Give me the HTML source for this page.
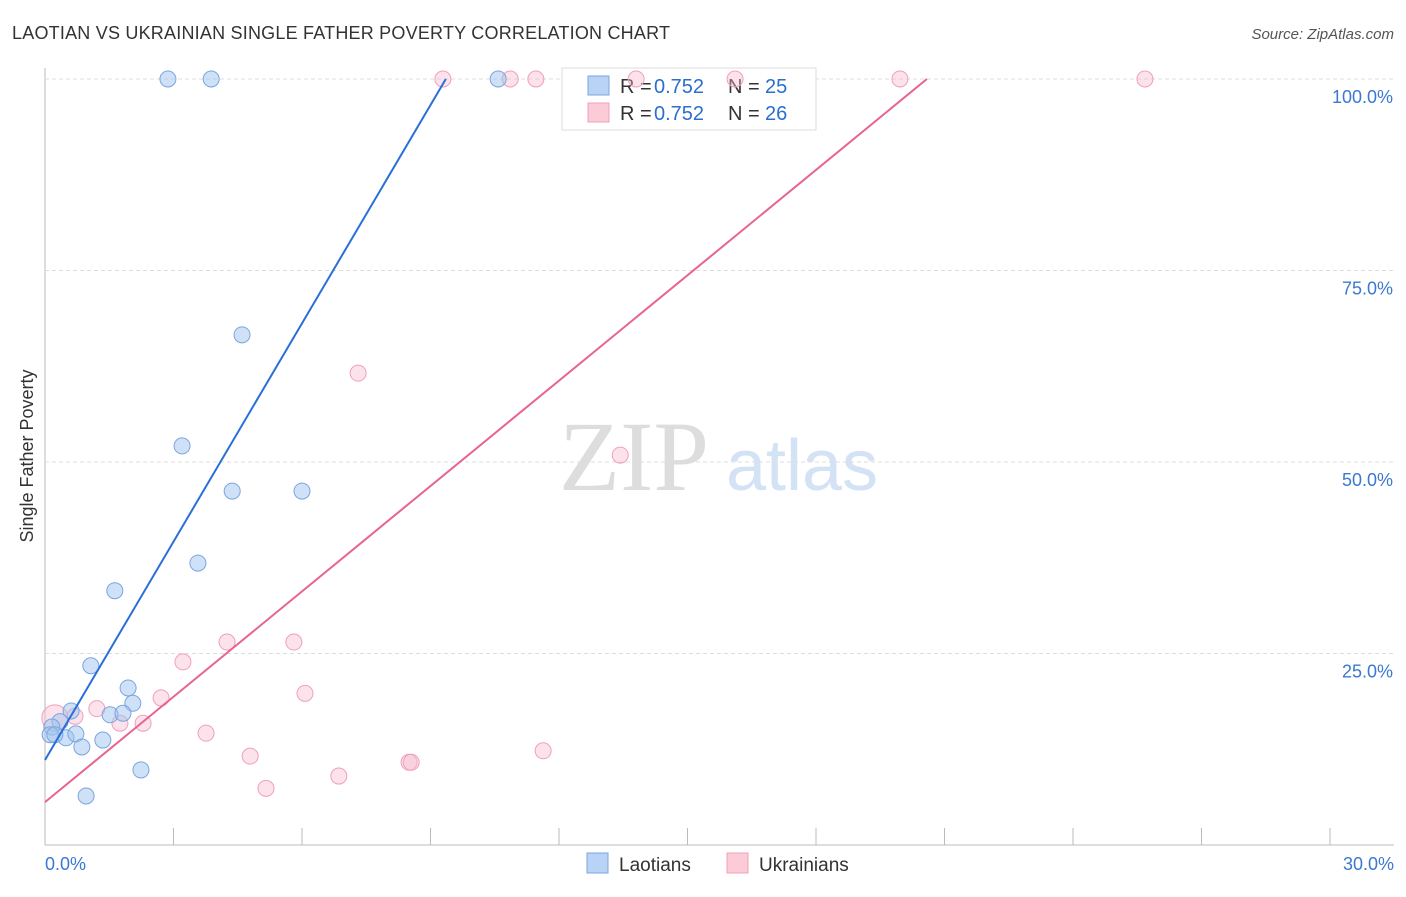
<!DOCTYPE html>
<html><head><meta charset="utf-8"><style>
body{margin:0;background:#fff;font-family:"Liberation Sans",sans-serif;}
</style></head><body>
<svg id="chart" width="1406" height="892" xmlns="http://www.w3.org/2000/svg">
<text x="12" y="39" font-size="18" fill="#333" textLength="658">LAOTIAN VS UKRAINIAN SINGLE FATHER POVERTY CORRELATION CHART</text>
<text x="1394" y="39" font-size="15" fill="#555" font-style="italic" text-anchor="end">Source: ZipAtlas.com</text>
<text x="33" y="456" font-size="18" fill="#333" transform="rotate(-90 33 456)" text-anchor="middle">Single Father Poverty</text>
<g><text x="634" y="490" font-size="100" fill="#ddd" font-family="Liberation Serif" text-anchor="middle">ZIP</text><text x="802" y="490" font-size="72" fill="#d4e2f5" text-anchor="middle">atlas</text></g>
<g id="grid"></g>
<g>
<rect x="562" y="68" width="254" height="62" fill="#fff" stroke="#ddd"/>
<rect x="588" y="76" width="21" height="19" fill="#b8d3f5" stroke="#7aa5e0"/>
<text x="620" y="93" font-size="20" fill="#333">R =</text><text x="654" y="93" font-size="20" fill="#2a6fd0">0.752</text>
<text x="728" y="93" font-size="20" fill="#333">N =</text><text x="765" y="93" font-size="20" fill="#2a6fd0">25</text>
<rect x="588" y="103" width="21" height="19" fill="#fbcbd8" stroke="#f0a0b8"/>
<text x="620" y="120" font-size="20" fill="#333">R =</text><text x="654" y="120" font-size="20" fill="#2a6fd0">0.752</text>
<text x="728" y="120" font-size="20" fill="#333">N =</text><text x="765" y="120" font-size="20" fill="#2a6fd0">26</text>
</g>
<g id="marks"></g>
<g>
<rect x="587" y="853" width="21" height="20" fill="#b8d3f5" stroke="#7aa5e0"/>
<text x="619" y="871" font-size="19" fill="#333">Laotians</text>
<rect x="727" y="853" width="21" height="20" fill="#fbcbd8" stroke="#f0a0b8"/>
<text x="759" y="871" font-size="19" fill="#333">Ukrainians</text>
</g>
</svg>
<script>
const xTicks=[0,3,6,9,12,15,18,21,24,27,30];
const yTicks=[25,50,75,100];
const blueX=[2.87,3.88,10.58,4.60,3.20,4.37,6.00,3.57,1.63,1.07,1.94,2.05,1.52,1.82,0.61,0.35,0.16,0.49,0.72,0.12,0.86,1.35,2.24,0.96,0.23];
const blueY=[100,100,100,66.6,52.1,46.2,46.2,36.8,33.2,23.4,20.5,18.5,17.0,17.2,17.5,16.1,15.4,14.0,14.5,14.4,12.8,13.7,9.8,6.4,14.4];
const pinkX=[9.29,10.86,11.46,13.80,16.11,19.96,25.68,7.31,13.43,4.25,5.81,3.22,6.07,2.71,1.21,0.70,0.23,2.29,1.75,3.76,4.79,11.63,8.50,8.55,6.86,5.16];
const pinkY=[100,100,100,100,100,100,100,61.6,50.9,26.5,26.5,23.9,19.8,19.2,17.8,16.8,16.6,15.9,15.9,14.6,11.6,12.3,10.8,10.8,9.0,7.4];
const blueLine=[11.1,9.5];
const pinkLine=[5.6,4.585];
const NS="http://www.w3.org/2000/svg";
const X=v=>45+v*(1285/30), Y=v=>845-v*7.66;
function mk(t,a,p){const e=document.createElementNS(NS,t);for(const k in a)e.setAttribute(k,a[k]);p.appendChild(e);return e;}
const g=document.getElementById('grid'), m=document.getElementById('marks');
let ax=mk('line',{x1:45,y1:68,x2:45,y2:845,stroke:'#bbb'},g);


let bx=mk('line',{x1:45,y1:845,x2:1394,y2:845,stroke:'#bbb'},g);


xTicks.forEach(t=>{if(t===0)return;const l=mk('line',{x1:X(t),y1:828,x2:X(t),y2:845,stroke:'#bbb'},g);

});
yTicks.forEach(t=>{const l=mk('line',{x1:45,y1:Y(t),x2:1394,y2:Y(t),stroke:'#ddd','stroke-dasharray':'4,3'},g);


const tx=mk('text',{x:1393,y:Y(t)+24,'font-size':18,fill:'#3b78d0','text-anchor':'end'},g);tx.textContent=t.toFixed(1)+'%';

});
[[0,'0.0%',45,'start'],[30,'30.0%',1394,'end']].forEach(a=>{const tx=mk('text',{x:a[2],y:870,'font-size':18,fill:'#3b78d0','text-anchor':a[3]},g);tx.textContent=a[1];

});
function pts(xs,ys,fill,stroke,name){xs.forEach((x,i)=>{const c=mk('circle',{cx:X(x),cy:Y(ys[i]),r:(name==='ukrainian-point'&&i===16)?13:8,fill:fill,stroke:stroke,'stroke-width':1},m);

});}
pts(pinkX,pinkY,'rgba(248,185,205,0.4)','#f0a0b8','ukrainian-point');
pts(blueX,blueY,'rgba(160,195,240,0.5)','#7aa5e0','laotian-point');
function line(p,x2,col,name){const l=mk('line',{x1:X(0),y1:Y(p[0]),x2:X(x2),y2:Y(p[0]+p[1]*x2),stroke:col,'stroke-width':2},m);

}
line(blueLine,(100-blueLine[0])/blueLine[1],'#2a6fd8','laotian-trendline');
line(pinkLine,(100-pinkLine[0])/pinkLine[1],'#e8648e','ukrainian-trendline');
</script>
</body></html>
